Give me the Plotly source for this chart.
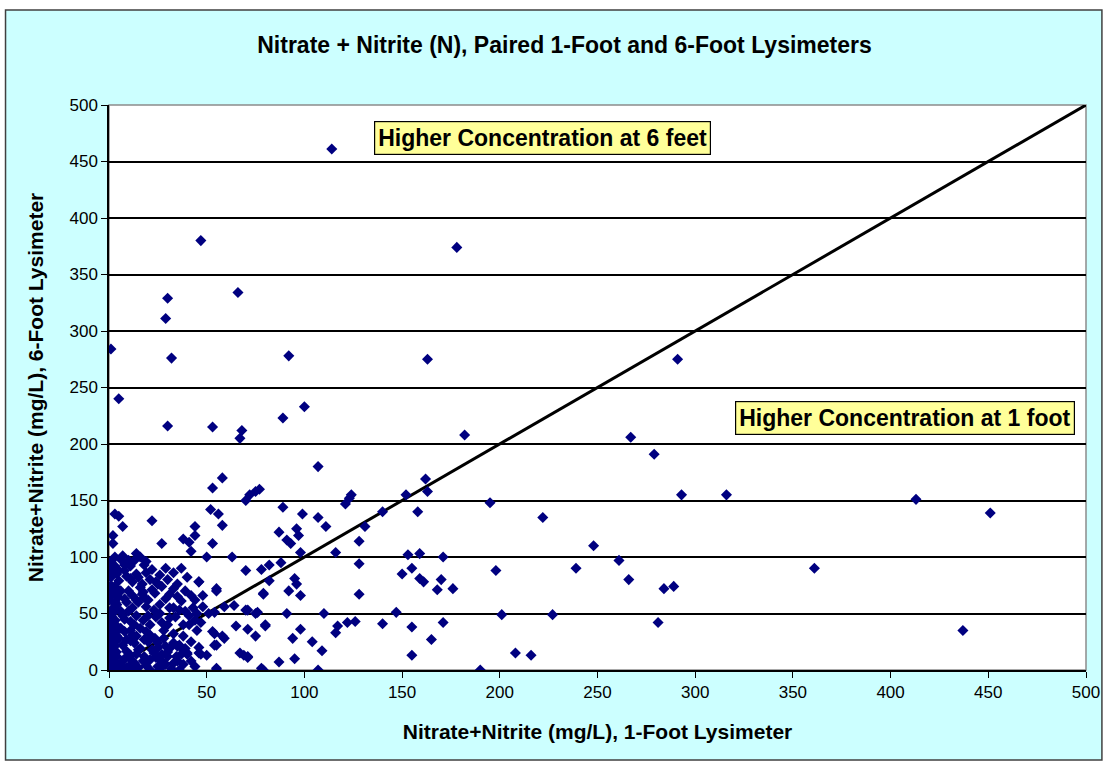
import plotly.graph_objects as go

# 1-foot lysimeter (x) and 6-foot lysimeter (y) concentrations, mg/L
one_foot = [
    114, 47, 178, 66, 30, 29, 1, 32, 92, 163, 291,
    5, 30, 53, 68, 67, 89, 100, 107,
    182, 267, 279,
    53, 58, 70, 72, 75, 77, 89, 99, 107, 111, 121, 123, 124, 140, 152, 162, 163, 158,
    293, 316, 413, 451, 195, 222, 248, 261, 171, 170, 176, 168, 198, 239, 266, 284, 289, 361,
    171, 201, 227, 281, 437, 208, 216, 190,
    3, 5, 7, 2, 2, 22, 27, 38, 44, 44, 41, 42, 52, 56, 58, 53, 50, 63,
    87, 96, 91, 93, 97, 98, 116, 128, 128, 131, 128, 153, 159, 150, 155, 159, 161,
    155, 165, 155,
    70, 78, 82, 88, 82, 46, 29, 25, 17, 55, 70, 76, 80, 65, 71, 75, 79, 92, 95, 96, 98,
    91, 110, 116, 117, 122, 126, 140, 147, 104, 109, 98, 94, 95, 87, 79, 107, 55, 69, 71,
    47, 50, 54, 59, 55, 51, 54, 59, 35, 38, 30, 28, 33,
    3, 7, 14, 10, 18, 22, 1, 1, 5, 11, 17, 24, 35, 14, 46, 55,
    17.5, 23.5, 33, 29, 12, 19, 11, 17.5, 24, 31, 36, 38, 6, 12, 19, 23.5, 29, 36, 34.5, 40,
    16, 9, 17.5, 24, 29, 36, 12, 21, 6, 26,
    79, 39, 41, 43, 45, 64, 71, 75, 80, 53, 58, 54, 46, 67, 71, 55, 78, 39, 40,
    6, 8, 10, 12, 14, 7, 9, 13, 15, 18, 20, 22, 25, 27, 11, 8, 6, 9, 14, 4, 10, 16, 20, 26,
    30, 33, 28, 38, 42, 45, 47, 33, 37, 42, 14, 21, 26, 1, 3, 5, 8,
    0.3, 0.5, 1, 1.5, 2, 2.5, 3, 3.5, 4, 0.3, 0.8, 1.2, 2, 2.8, 3.3, 4.2, 0.5, 1, 1.8, 2.5,
    3, 3.8, 0.4, 1.1, 2.2, 3.1, 4.5, 0.6, 1.4, 2.6, 3.6, 0.2, 1.3, 2.4, 3.4, 0.7, 1.6, 2.9,
    4, 0.9, 2.1, 3.2, 0.5, 1.7, 2.7, 4.4, 1, 2.3,
    1, 2, 4, 6, 8, 11, 13, 16, 19, 9, 12, 15, 19, 21, 26, 30, 33, 37, 40,
    3, 6, 8, 12, 15, 18, 22, 27, 31, 35, 39, 44, 48,
    4, 7, 10, 13, 16, 20, 23, 27, 31, 34, 41, 44, 48,
    2, 5, 8, 11, 14, 18, 21, 25, 28, 31, 33, 37, 42, 44, 46,
    2, 4, 7, 9, 11, 13, 15, 19, 21, 23, 25, 27, 30, 32, 35, 38,
]
six_foot = [
    461, 380, 374, 334, 329, 311, 284, 276, 278, 275, 275,
    240, 216, 215, 212, 205, 223, 233, 180,
    208, 206, 191,
    161, 170, 150, 155, 158, 160, 144, 138, 135, 127, 147, 152, 155, 140, 155, 169, 158, 140,
    155, 155, 151, 139, 148, 135, 110, 97, 100, 80, 72, 71, 88, 90, 80, 72, 74, 90,
    42, 49, 49, 42, 35, 15, 13, 0,
    138, 136, 127, 119, 112, 132, 112, 116, 127, 119, 113, 105, 142, 138, 128, 112, 100, 100,
    122, 125, 115, 112, 119, 104, 104, 114, 94, 127, 67, 102, 103, 85, 90, 81, 78,
    38, 27, 13,
    88, 89, 93, 95, 79, 78, 90, 76, 67, 70, 53, 51, 39, 39, 36, 30, 67, 70, 81, 76, 66,
    50, 50, 33, 39, 42, 43, 41, 51, 25, 17, 36, 28, 10, 7, 0, 0, 0, 13, 11,
    14, 13, 32, 28, 22, 50, 51, 56, 21, 18, 12, 5, 6,
    100, 101, 103, 97, 93, 89, 88, 82, 79, 81, 76, 78, 76, 85, 78, 72,
    69, 68, 72, 63, 55, 56, 43, 44, 47, 46, 53, 40, 37, 31, 34, 28, 21, 22, 12, 14,
    19, 16.5, 8, 11, 5, 0, 0, 0, 0, 0,
    68, 52, 48, 55, 50, 57, 53, 50, 40, 34, 30, 22, 15, 15, 12, 1.5, 1.5, 19, 15,
    5, 10, 3, 8, 14, 22, 27, 24, 2, 12, 25, 18, 20, 14, 35, 45, 52, 60, 62, 66, 70, 73, 62, 58,
    40, 32, 35, 30, 25, 35, 42, 55, 61, 66, 48, 40, 50, 95, 92, 88, 93,
    0, 3, 6, 10, 14, 18, 22, 26, 30, 35, 40, 45, 50, 55, 60, 65, 70, 75, 2, 8,
    12, 16, 20, 24, 28, 33, 38, 42, 47, 52, 57, 62, 67, 72, 4, 9, 15, 21,
    27, 32, 37, 44, 49, 54, 59, 64, 1, 5,
    96, 90, 85, 98, 88, 92, 97, 100, 96, 83, 78, 82, 86, 80, 84, 80, 86, 90, 82,
    74, 70, 63, 66, 60, 64, 71, 74, 67, 65, 70, 62, 66,
    58, 48, 52, 40, 37, 48, 53, 42, 55, 47, 40, 44, 56,
    33, 28, 34, 26, 30, 27, 31, 24, 28, 19, 24, 14, 8, 3, 20,
    18, 12, 8, 2, 13, 6, 18, 4, 9, 15, 3, 8, 16, 1, 8, 5,
]

ref_line_x = [0, 500]
ref_line_y = [0, 500]

tick_vals = [0, 50, 100, 150, 200, 250, 300, 350, 400, 450, 500]
grid_vals = [50, 100, 150, 200, 250, 300, 350, 400, 450]

title_text = "Nitrate + Nitrite (N), Paired 1-Foot and 6-Foot Lysimeters"
x_title = "Nitrate+Nitrite (mg/L), 1-Foot Lysimeter"
y_title = "Nitrate+Nitrite (mg/L), 6-Foot Lysimeter"
note_6ft = "Higher Concentration at 6 feet"
note_1ft = "Higher Concentration at 1 foot"

FONT = "Liberation Sans, Arial, sans-serif"

fig = go.Figure()
fig.add_trace(go.Scatter(x=ref_line_x, y=ref_line_y, mode="lines",
                         line=dict(color="black", width=3),
                         hoverinfo="skip", showlegend=False))
fig.add_trace(go.Scatter(x=one_foot, y=six_foot, mode="markers",
                         marker=dict(symbol="diamond", size=8.5, color="#000080",
                                     line=dict(width=0)),
                         showlegend=False))

# chart area background and border (paper coords relative to plot area)
L, R, T, B = 109, 1091, 105, 670
W, H = R - L, B - T
def px(x): return (x - L) / W
def py(y): return (B - y) / H

fig.add_shape(type="rect", xref="paper", yref="paper",
              x0=px(5), x1=px(1107), y0=py(760), y1=py(10),
              fillcolor="#CCFFFF", line=dict(color="#404040", width=1.5), layer="below")
fig.add_shape(type="rect", xref="paper", yref="paper",
              x0=0, x1=1, y0=0, y1=1,
              fillcolor="white", line=dict(color="#8c8c8c", width=1.5), layer="below")

fig.add_annotation(x=222, y=471, xref="x", yref="y", text=note_6ft, showarrow=False,
                   font=dict(family=FONT, size=23, color="black", weight="bold"),
                   bgcolor="#FFFF99", bordercolor="black", borderwidth=1.2, borderpad=3)
fig.add_annotation(x=407.5, y=223, xref="x", yref="y", text=note_1ft, showarrow=False,
                   font=dict(family=FONT, size=23, color="black", weight="bold"),
                   bgcolor="#FFFF99", bordercolor="black", borderwidth=1.2, borderpad=3)

fig.update_layout(
    width=1112, height=763,
    margin=dict(l=L, r=1112 - R, t=T, b=763 - B),
    paper_bgcolor="white", plot_bgcolor="rgba(0,0,0,0)",
    font=dict(family=FONT, color="black"),
    title=dict(text=title_text, x=(253 + 876) / 2 / 1112, xanchor="center",
               y=1 - 45 / 763, yanchor="middle",
               font=dict(family=FONT, size=23, color="black", weight="bold")),
    showlegend=False,
)
fig.update_xaxes(range=[0, 500], tickvals=tick_vals, showgrid=False, zeroline=False,
                 showline=True, linecolor="black", linewidth=1.5,
                 ticks="outside", ticklen=6, tickcolor="black",
                 tickfont=dict(family=FONT, size=17, color="black"),
                 title=dict(text=x_title, standoff=23,
                            font=dict(family=FONT, size=21, color="black", weight="bold")))
fig.update_yaxes(range=[0, 500], tickvals=tick_vals, showgrid=False, zeroline=False,
                 showline=True, linecolor="black", linewidth=1.5,
                 ticks="outside", ticklen=6, tickcolor="black",
                 tickfont=dict(family=FONT, size=17, color="black"),
                 minor=dict(tickvals=grid_vals, showgrid=True, gridcolor="black",
                            gridwidth=1.5, ticks=""),
                 title=dict(text=y_title, standoff=20,
                            font=dict(family=FONT, size=21, color="black", weight="bold")))

fig.write_html("out.html")
